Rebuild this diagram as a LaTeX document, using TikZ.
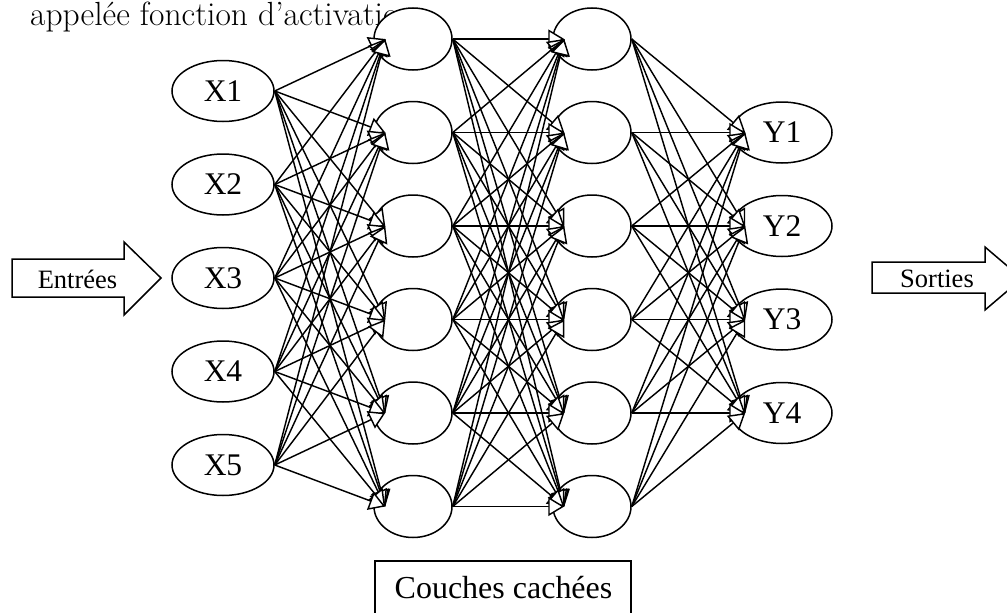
\documentclass[tikz,border=0pt]{standalone}
\usepackage{fontspec}
\newfontfamily\tnr{Liberation Serif}
\usetikzlibrary{shapes.geometric,arrows.meta,calc}
\begin{document}
\begin{tikzpicture}[x=1pt,y=-1pt,
  neuron/.style={ellipse, draw, line width=1.5pt, fill=white, inner sep=0pt, font=\tnr\fontsize{31.5}{36}\selectfont},
  inn/.style={neuron, minimum width=102pt, minimum height=61pt},
  hid/.style={neuron, minimum width=78pt, minimum height=62pt},
  outn/.style={neuron, minimum width=100pt, minimum height=61pt},
  conn/.style={line width=1.45pt, -{Triangle[length=16pt,width=19pt,fill=white,line width=1.45pt]}},
  blockarrow/.style={draw, line width=1.5pt, fill=white, line join=miter},
  lab/.style={font=\tnr\fontsize{26.5}{30}\selectfont, inner sep=0pt, anchor=base},
]
\useasboundingbox (0,0) rectangle (1007,613);
\clip (0,0) rectangle (1007,613);

\node[anchor=base west, inner sep=0pt, font=\fontsize{33.5}{38}\selectfont] (note) at (30,25) {appelée fonction d’activation};

\foreach \i/\y in {1/91,2/184.5,3/278,4/371.5,5/465}
  \node[inn] (x\i) at (223,\y) {X\i};
\foreach \i/\y in {1/39,2/132.5,3/226,4/319.5,5/413,6/506.5} {
  \node[hid] (a\i) at (413,\y) {};
  \node[hid] (b\i) at (592,\y) {};
}
\foreach \i/\y in {1/132.5,2/226,3/319.5,4/413}
  \node[outn] (y\i) at (782,\y) {Y\i};

\foreach \s in {1,...,5}
  \foreach \t in {1,...,6}
    \draw[conn] (x\s.east) -- ($(a\t.west)+(12,0)$);
\foreach \s in {1,...,6}
  \foreach \t in {1,...,6}
    \draw[conn] (a\s.east) -- ($(b\t.west)+(12,0)$);
\foreach \s in {1,...,6}
  \foreach \t in {1,...,4}
    \draw[conn] (b\s.east) -- ($(y\t.west)+(14,0)$);

\draw[blockarrow] (12,259) -- (124,259) -- (124,242) -- (161,278) -- (124,315) -- (124,297) -- (12,297) -- cycle;
\node[lab] (entrees) at (77.5,288) {Entrées};

\draw[blockarrow] (872,262) -- (985,262) -- (985,247) -- (1022,278.5) -- (985,310) -- (985,293) -- (872,293) -- cycle;
\node[lab] (sorties) at (937,287) {Sorties};

\draw[line width=1.5pt] (375,561) rectangle (631,640);
\node[font=\tnr\fontsize{32}{36}\selectfont, inner sep=0pt, anchor=base] (couches) at (503.5,598) {Couches cachées};
\end{tikzpicture}
\end{document}
